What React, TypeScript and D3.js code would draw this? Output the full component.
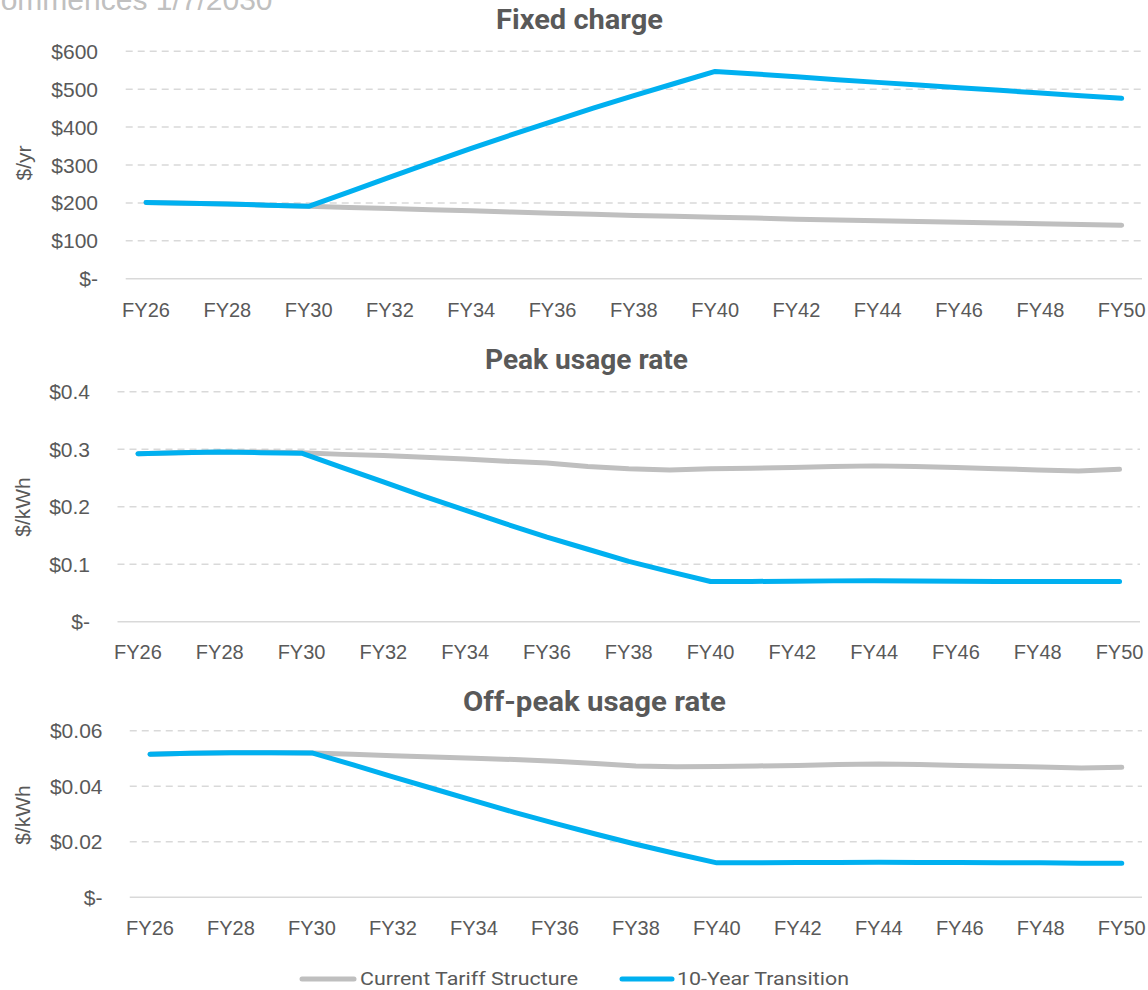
import React from "react";
import * as d3 from "d3";

const years = ["FY26","FY27","FY28","FY29","FY30","FY31","FY32","FY33","FY34","FY35","FY36","FY37","FY38","FY39","FY40","FY41","FY42","FY43","FY44","FY45","FY46","FY47","FY48","FY49","FY50"];
const tickYears = ["FY26","FY28","FY30","FY32","FY34","FY36","FY38","FY40","FY42","FY44","FY46","FY48","FY50"];

const fixedCurrent = [201,199,197,194,191,188,185,182,179,176,173,170,167,165,162,160,157,155,153,151,149,147,145,143,141];
const fixedTransition = [201,199,197,194,191,229,268,306,344,380,415,450,483,515,547,540,533,525,518,511,504,497,490,483,476];

const peakCurrent = [0.292,0.294,0.295,0.295,0.294,0.291,0.289,0.286,0.283,0.279,0.276,0.270,0.266,0.264,0.266,0.267,0.268,0.270,0.271,0.270,0.268,0.266,0.264,0.262,0.265];
const peakTransition = [0.292,0.294,0.295,0.294,0.293,0.268,0.243,0.218,0.194,0.170,0.147,0.126,0.105,0.087,0.070,0.070,0.0705,0.071,0.0712,0.071,0.0705,0.070,0.070,0.0698,0.0698];

const offCurrent = [0.0515,0.0519,0.0521,0.0521,0.0520,0.0515,0.0510,0.0505,0.0501,0.0496,0.0490,0.0482,0.0473,0.0470,0.0471,0.0473,0.0475,0.0478,0.0480,0.0478,0.0475,0.0472,0.0469,0.0466,0.0468];
const offTransition = [0.0515,0.0519,0.0521,0.0521,0.0520,0.0478,0.0434,0.0391,0.0348,0.0306,0.0266,0.0228,0.0191,0.0157,0.0124,0.0124,0.0125,0.0125,0.0126,0.0125,0.0125,0.0124,0.0124,0.0123,0.0123];

const fixedTicks = [0,100,200,300,400,500,600];
const fixedTickLabels = ["$-","$100","$200","$300","$400","$500","$600"];
const peakTicks = [0,0.1,0.2,0.3,0.4];
const peakTickLabels = ["$-","$0.1","$0.2","$0.3","$0.4"];
const offTicks = [0,0.02,0.04,0.06];
const offTickLabels = ["$-","$0.02","$0.04","$0.06"];

const seriesNames = ["Current Tariff Structure", "10-Year Transition"];

const GREY = "#BFBFBF";
const BLUE = "#00B0F0";
const TEXT = "#595959";
const GRID = "#D9D9D9";
const TICKFONT = "'Liberation Sans', Arial, sans-serif";

type PanelProps = {
  title: string;
  titleX: number;
  titleY: number;
  titleW: number;
  yLabel: string;
  yLabelX: number;
  yLabelY: number;
  x0: number;
  x1: number;
  yBottom: number;
  yTop: number;
  max: number;
  ticks: number[];
  tickLabels: string[];
  tickRight: number;
  xLabelY: number;
  current: number[];
  transition: number[];
};

function Panel(p: PanelProps) {
  const x = d3.scalePoint<string>().domain(years).range([p.x0, p.x1]).padding(0.5);
  const y = d3.scaleLinear().domain([0, p.max]).range([p.yBottom, p.yTop]);
  const line = d3
    .line<number>()
    .x((_, i) => x(years[i]) as number)
    .y((d) => y(d));
  return (
    <g>
      {p.ticks.map((t, i) =>
        i === 0 ? null : (
          <line
            key={"g" + i}
            x1={p.x0}
            x2={p.x1}
            y1={y(t)}
            y2={y(t)}
            stroke={GRID}
            strokeWidth={1.5}
            strokeDasharray="7,5"
          />
        )
      )}
      <line x1={p.x0} x2={p.x1} y1={y(0)} y2={y(0)} stroke={GRID} strokeWidth={1.5} />
      {p.ticks.map((t, i) => (
        <text
          key={"t" + i}
          x={p.tickRight}
          y={y(t)}
          textAnchor="end"
          dominantBaseline="central"
          fontFamily={TICKFONT}
          fontSize={21}
          fill={TEXT}
        >
          {p.tickLabels[i]}
        </text>
      ))}
      {tickYears.map((yr) => (
        <text
          key={yr}
          x={x(yr) as number}
          y={p.xLabelY}
          textAnchor="middle"
          dominantBaseline="central"
          fontFamily={TICKFONT}
          fontSize={20}
          fill={TEXT}
        >
          {yr}
        </text>
      ))}
      <text
        x={p.titleX}
        y={p.titleY}
        textAnchor="middle"
        fontFamily="Roboto, sans-serif"
        fontWeight="bold"
        fontSize={27}
        fill={TEXT}
        textLength={p.titleW}
        lengthAdjust="spacingAndGlyphs"
      >
        {p.title}
      </text>
      <text
        transform={`translate(${p.yLabelX},${p.yLabelY}) rotate(-90)`}
        textAnchor="middle"
        dominantBaseline="central"
        fontFamily={TICKFONT}
        fontSize={21}
        fill={TEXT}
      >
        {p.yLabel}
      </text>
      <path d={line(p.current) || ""} fill="none" stroke={GREY} strokeWidth={5} strokeLinecap="round" strokeLinejoin="round" />
      <path d={line(p.transition) || ""} fill="none" stroke={BLUE} strokeWidth={5} strokeLinecap="round" strokeLinejoin="round" />
    </g>
  );
}

export default function App() {
  return (
    <svg
      width={1148}
      height={990}
      style={{ position: "absolute", left: 0, top: 0, background: "#fff" }}
    >
      <rect x={0} y={0} width={1148} height={990} fill="#fff" />
      <text x={-21} y={10} fontFamily={TICKFONT} fontSize={30} fill="#C0C0C0">
        Commences 1/7/2030
      </text>
      <Panel
        title="Fixed charge"
        titleX={579.5}
        titleY={29}
        titleW={167}
        yLabel="$/yr"
        yLabelX={23}
        yLabelY={163}
        x0={125.7}
        x1={1142}
        yBottom={278.7}
        yTop={51.3}
        max={600}
        ticks={fixedTicks}
        tickLabels={fixedTickLabels}
        tickRight={98}
        xLabelY={309.5}
        current={fixedCurrent}
        transition={fixedTransition}
      />
      <Panel
        title="Peak usage rate"
        titleX={586.5}
        titleY={369}
        titleW={203}
        yLabel="$/kWh"
        yLabelX={22}
        yLabelY={507}
        x0={117.5}
        x1={1140}
        yBottom={621.7}
        yTop={391.7}
        max={0.4}
        ticks={peakTicks}
        tickLabels={peakTickLabels}
        tickRight={90}
        xLabelY={652}
        current={peakCurrent}
        transition={peakTransition}
      />
      <Panel
        title="Off-peak usage rate"
        titleX={594.5}
        titleY={711}
        titleW={263}
        yLabel="$/kWh"
        yLabelX={22}
        yLabelY={815}
        x0={129.75}
        x1={1142}
        yBottom={897.3}
        yTop={730.7}
        max={0.06}
        ticks={offTicks}
        tickLabels={offTickLabels}
        tickRight={102.5}
        xLabelY={927.5}
        current={offCurrent}
        transition={offTransition}
      />
      <g>
        <line x1={302} x2={354} y1={979} y2={979} stroke={GREY} strokeWidth={5} strokeLinecap="round" />
        <text x={360} y={978} dominantBaseline="central" fontFamily="Roboto, sans-serif" fontSize={19} fill={TEXT} textLength={218} lengthAdjust="spacingAndGlyphs">
          {seriesNames[0]}
        </text>
        <line x1={622} x2={672} y1={979} y2={979} stroke={BLUE} strokeWidth={5} strokeLinecap="round" />
        <text x={677} y={978} dominantBaseline="central" fontFamily="Roboto, sans-serif" fontSize={19} fill={TEXT} textLength={172} lengthAdjust="spacingAndGlyphs">
          {seriesNames[1]}
        </text>
      </g>
    </svg>
  );
}
